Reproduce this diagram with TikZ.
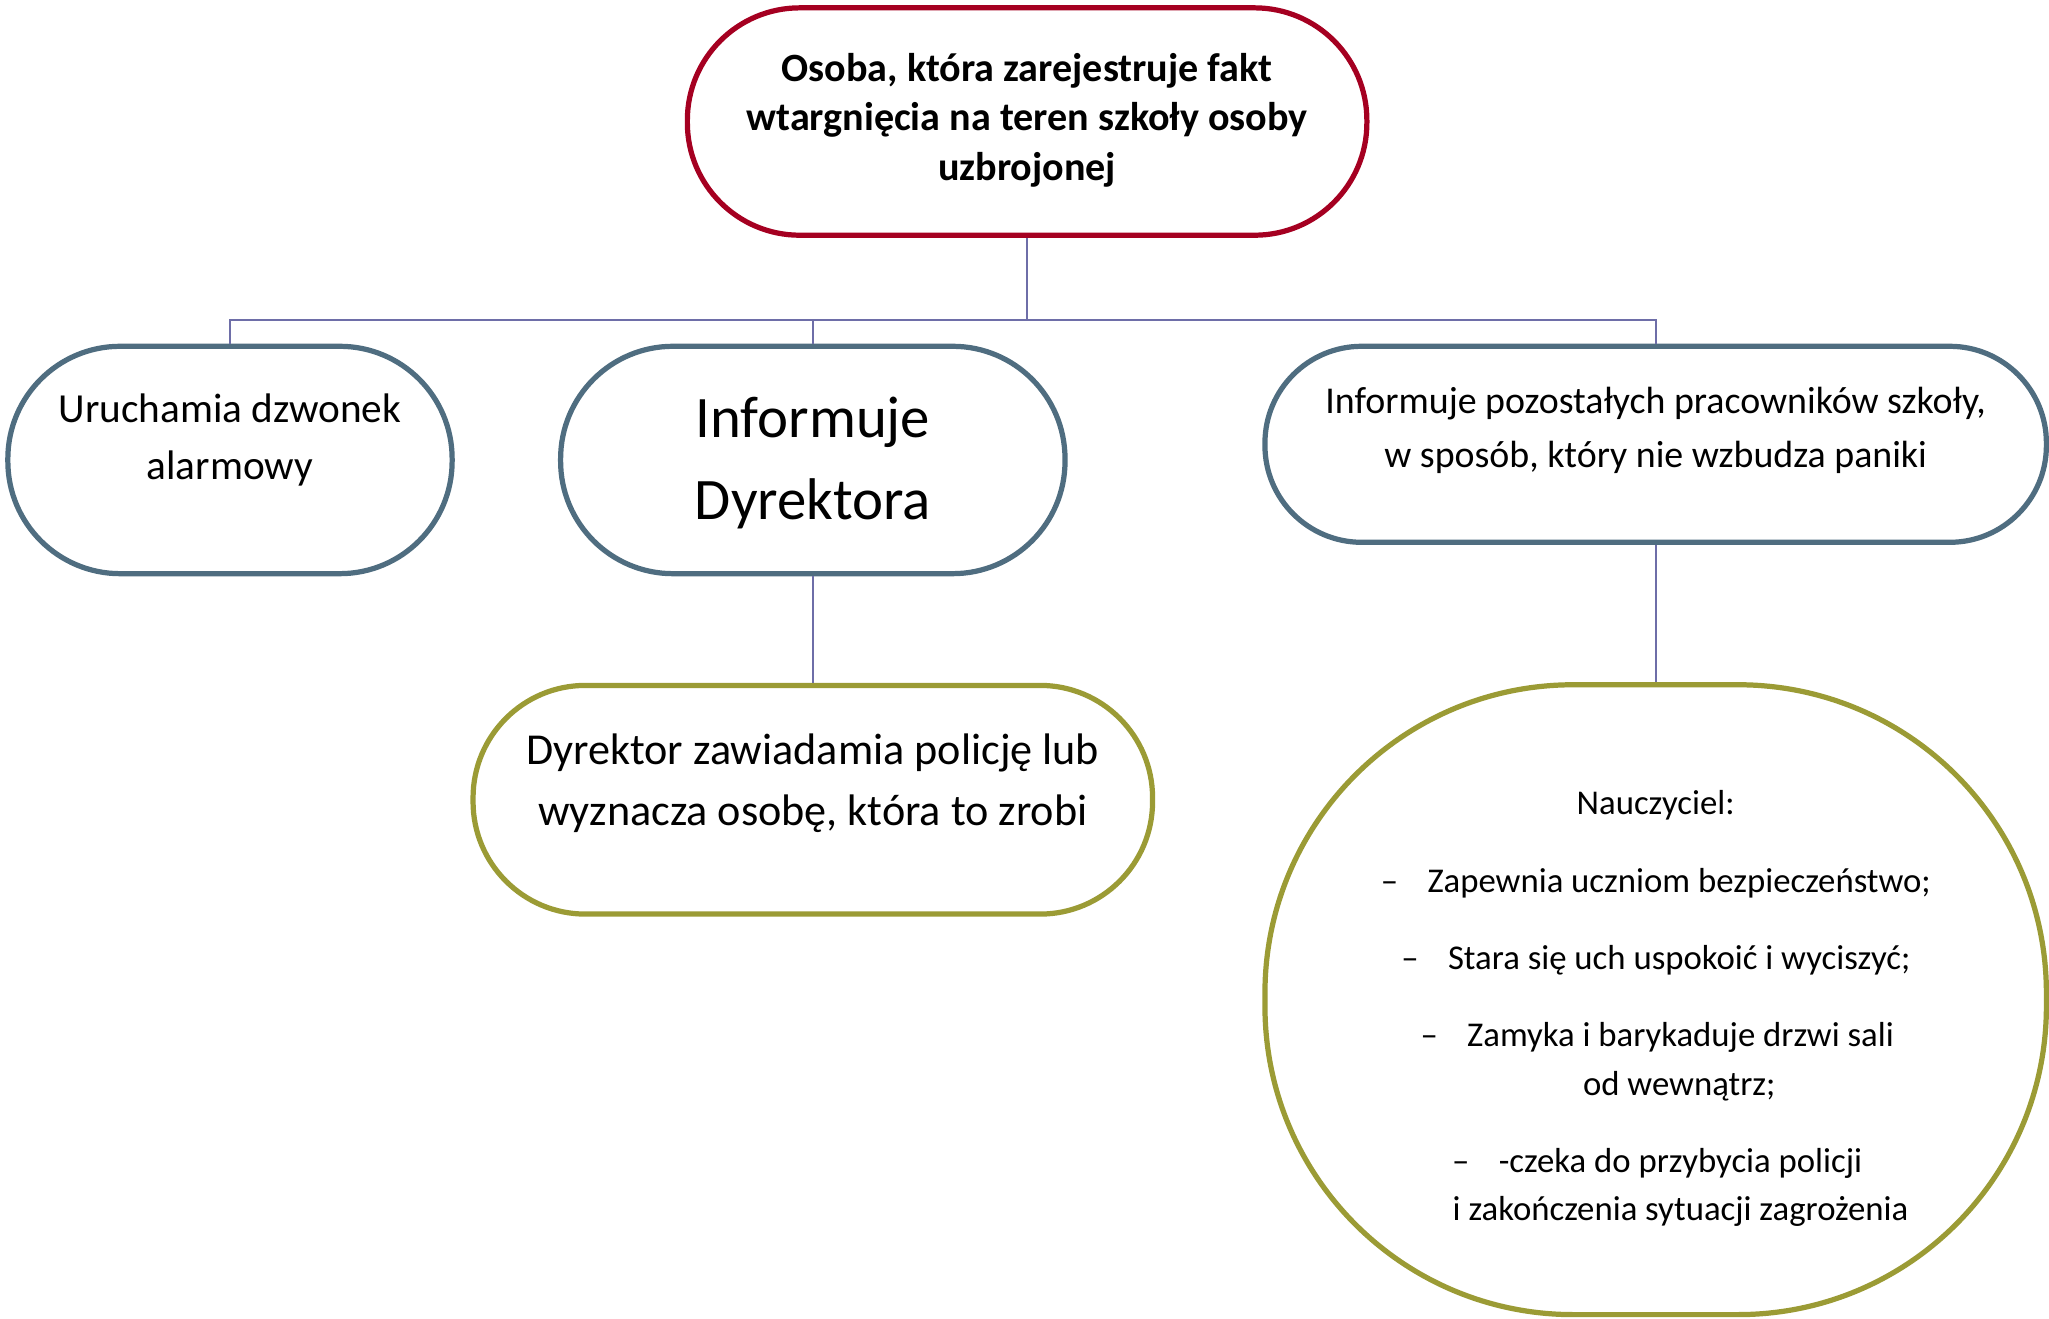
\documentclass[tikz,border=0pt]{standalone}
\usepackage{fontspec}
\setmainfont{Carlito}
\definecolor{topred}{HTML}{A50021}
\definecolor{slate}{HTML}{4F6D80}
\definecolor{olive}{HTML}{9B9B35}
\definecolor{conn}{HTML}{6E6EA8}
\begin{document}
\begin{tikzpicture}[x=1pt,y=-1pt,
  shapebox/.style={draw, line width=4pt, fill=white, inner sep=0pt, rectangle},
  connline/.style={draw=conn, line width=1.5pt},
  txt/.style={anchor=mid, inner sep=0pt},
  ftop/.style={font=\fontsize{30.7}{36}\bfseries\selectfont, yshift=-7.7pt},
  fa/.style={font=\fontsize{31.6}{37}\selectfont, yshift=-7.9pt},
  fb/.style={font=\fontsize{45}{54}\selectfont, yshift=-11.3pt},
  fc/.style={font=\fontsize{29}{35}\selectfont, yshift=-7.3pt},
  fd/.style={font=\fontsize{33.8}{40}\selectfont, yshift=-8.5pt},
  efont/.style={font=\fontsize{26.6}{32}\selectfont},
  fe/.style={efont, yshift=-6.7pt}]
\useasboundingbox (0,0) rectangle (1568,1009);
% shapes
\node[shapebox, draw=topred, minimum width=520pt, minimum height=174pt, rounded corners=86pt] (t) at (786,93) {};
\node[shapebox, draw=slate, minimum width=340pt, minimum height=174pt, rounded corners=86pt] (a) at (176,352) {};
\node[shapebox, draw=slate, minimum width=386pt, minimum height=174pt, rounded corners=86pt] (b) at (622,352) {};
\node[shapebox, draw=slate, minimum width=598pt, minimum height=150pt, rounded corners=74pt] (c) at (1267,340) {};
\node[shapebox, draw=olive, minimum width=520pt, minimum height=175pt, rounded corners=86pt] (d) at (622,612) {};
\node[shapebox, draw=olive, minimum width=598pt, minimum height=482pt, rounded corners=236pt] (e) at (1267,765) {};
% connectors
\coordinate (bus) at (786,245);
\draw[connline] (t.south) -- (bus);
\draw[connline] (a.north) |- (bus);
\draw[connline] (b.north) |- (bus);
\draw[connline] (c.north) |- (bus);
\draw[connline] (b.south) -- (d.north);
\draw[connline] (c.south) -- (e.north);
% texts
\node[txt, ftop] (t1) at (786,52) {Osoba, która zarejestruje fakt};
\node[txt, ftop] (t2) at (786,90) {wtargnięcia na teren szkoły osoby};
\node[txt, ftop] (t3) at (786,128) {uzbrojonej};
\node[txt, fa] (a1) at (176,313) {Uruchamia dzwonek};
\node[txt, fa] (a2) at (176,357) {alarmowy};
\node[txt, fb] (b1) at (622,321) {Informuje};
\node[txt, fb] (b2) at (622,384) {Dyrektora};
\node[txt, fc] (c1) at (1267,307) {Informuje pozostałych pracowników szkoły,};
\node[txt, fc] (c2) at (1267,348) {w sposób, który nie wzbudza paniki};
\node[txt, fd] (d1) at (622,574) {Dyrektor zawiadamia policję lub};
\node[txt, fd] (d2) at (622,621) {wyznacza osobę, która to zrobi};
\node[txt, fe] (e0) at (1267,614) {Nauczyciel:};
\node[txt, fe] (e1) at (1285,674) {Zapewnia uczniom bezpieczeństwo;};
\node[txt, fe] (e2) at (1285,733) {Stara się uch uspokoić i wyciszyć;};
\node[txt, fe] (e3) at (1286,792) {Zamyka i barykaduje drzwi sali};
\node[txt, fe] (e3b) at (1285,829) {od wewnątrz;};
\node[txt, fe] (e4) at (1286,888) {-czeka do przybycia policji};
\node[txt, fe] (e4b) at (1286,925) {i zakończenia sytuacji zagrożenia};
\foreach \n in {e1,e2,e3,e4}
  \node[efont, anchor=mid east, inner sep=0pt] (\n-dash) at ([xshift=-22pt]\n.mid west) {–};
\end{tikzpicture}
\end{document}
